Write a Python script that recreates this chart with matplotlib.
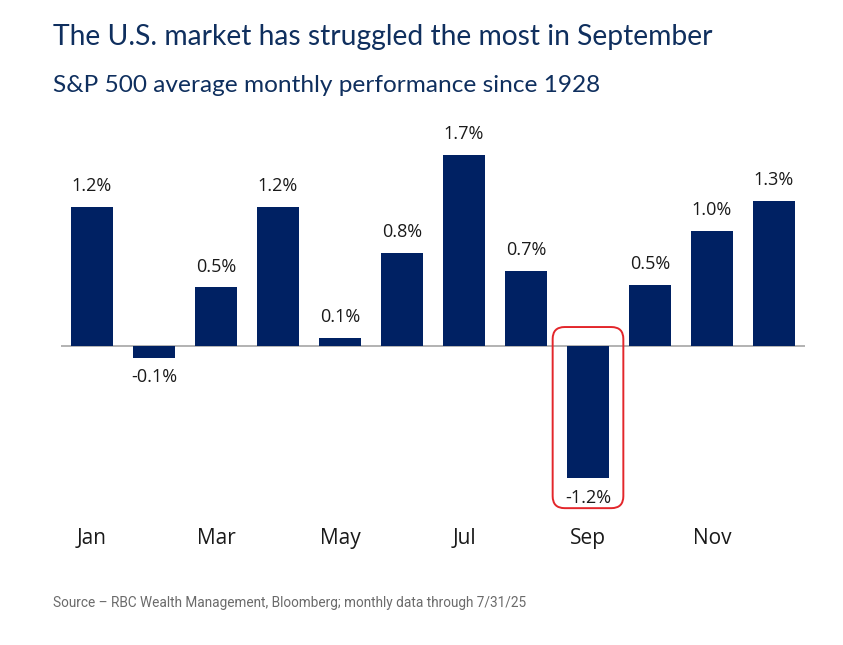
import matplotlib
matplotlib.use('Agg')
import matplotlib.pyplot as plt
from matplotlib.patches import FancyBboxPatch

# data (bar heights in %, labels as printed)
months = ["Jan", "Feb", "Mar", "Apr", "May", "Jun",
          "Jul", "Aug", "Sep", "Oct", "Nov", "Dec"]
avg_return = [1.21, -0.10, 0.51, 1.21, 0.07, 0.81,
              1.66, 0.65, -1.15, 0.53, 1.00, 1.26]
value_labels = ["1.2%", "-0.1%", "0.5%", "1.2%", "0.1%", "0.8%",
                "1.7%", "0.7%", "-1.2%", "0.5%", "1.0%", "1.3%"]
shown_ticks = ["Jan", "Mar", "May", "Jul", "Sep", "Nov"]
highlight = "Sep"

navy = "#002163"
title_col = "#0f2f5e"

plt.rcParams['font.family'] = ['Lato', 'DejaVu Sans']

fig = plt.figure(figsize=(8.43, 6.45), dpi=100)
ax = fig.add_axes([61 / 843, 145 / 645, 744 / 843, 360 / 645])

x = list(range(len(months)))
ax.bar(x, avg_return, width=0.68, color=navy, zorder=2)
ax.axhline(0, color="#a6a6a6", lw=1.2, zorder=1)

ax.set_xlim(-0.5, 11.5)
ax.set_ylim(-154 / 115, 206 / 115)

for xi, v, lab in zip(x, avg_return, value_labels):
    off = 15 if v >= 0 else -14
    ax.annotate(lab, (xi, v), xytext=(0, off), textcoords="offset points",
                ha="center", va="center", fontsize=13, color="#1a1a1a",
                family=["Open Sans", "DejaVu Sans"])

ax.set_xticks([months.index(m) for m in shown_ticks])
ax.set_xticklabels(shown_ticks, fontsize=15, color="#1a1a1a",
                   family=["Open Sans", "DejaVu Sans"])
ax.tick_params(axis="x", length=0, pad=20)
ax.set_yticks([])
for s in ax.spines.values():
    s.set_visible(False)

# red rounded box around the highlighted month
fig.canvas.draw()
hi = months.index(highlight)
x0, y0 = ax.transData.transform((hi - 0.57, avg_return[hi] - 0.26))
x1, y1 = ax.transData.transform((hi + 0.57, 0.165))
box = FancyBboxPatch((x0, y0), x1 - x0, y1 - y0,
                     boxstyle="round,pad=0,rounding_size=12",
                     transform=None, fill=False, edgecolor="#e3262b",
                     lw=1.4, clip_on=False, zorder=3)
fig.patches.append(box)

fig.text(53 / 843, 1 - 37 / 645, "The U.S. market has struggled the most in September",
         fontsize=20.3, color=title_col, va="center", ha="left")
fig.text(53 / 843, 1 - 85 / 645, "S&P 500 average monthly performance since 1928",
         fontsize=17.6, color=title_col, va="center", ha="left")
fig.text(53 / 843, 1 - 603 / 645,
         "Source \u2013 RBC Wealth Management, Bloomberg; monthly data through 7/31/25",
         fontsize=9.8, color="#6b6b6b", va="center", ha="left",
         family=["Roboto", "DejaVu Sans"])

fig.savefig("out.png", dpi=100)
